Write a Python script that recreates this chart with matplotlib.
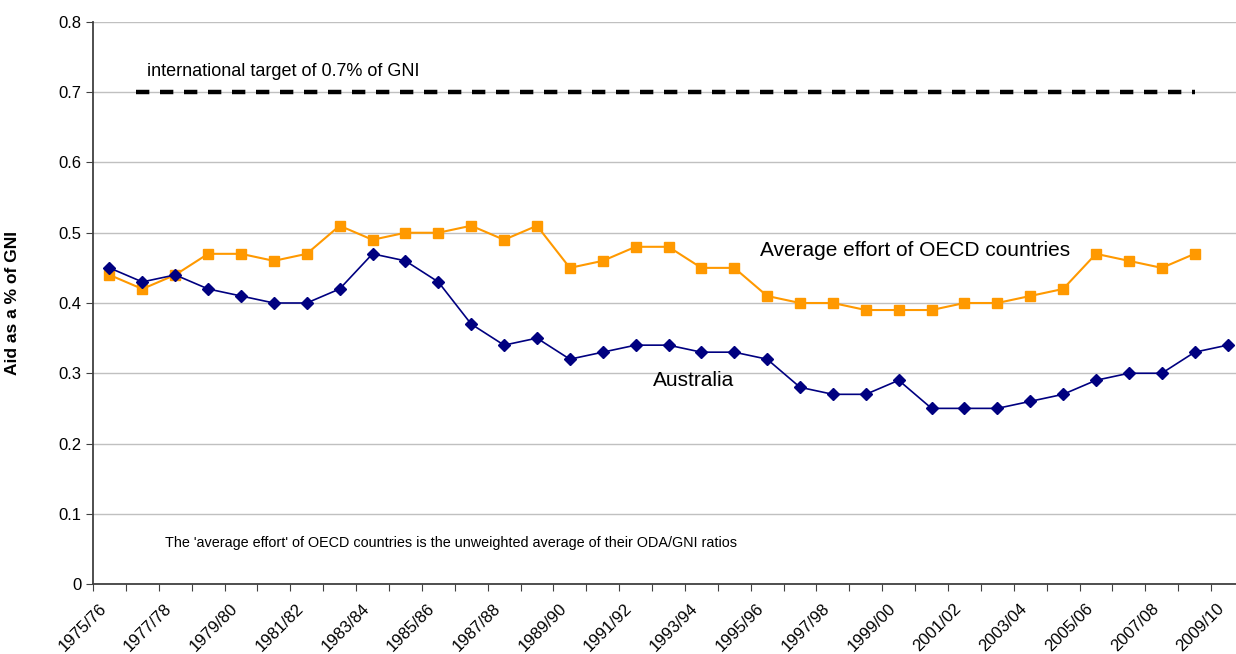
import matplotlib
matplotlib.use("Agg")
import matplotlib.pyplot as plt
import matplotlib.transforms as mtransforms
import numpy as np

plt.rcParams['font.family'] = ['Liberation Sans', 'DejaVu Sans']

years = [f"{y}/{str(y + 1)[-2:]}" for y in range(1975, 2010)]
australia = [0.45, 0.43, 0.44, 0.42, 0.41, 0.40, 0.40, 0.42, 0.47, 0.46,
             0.43, 0.37, 0.34, 0.35, 0.32, 0.33, 0.34, 0.34, 0.33, 0.33,
             0.32, 0.28, 0.27, 0.27, 0.29, 0.25, 0.25, 0.25, 0.26, 0.27,
             0.29, 0.30, 0.30, 0.33, 0.34]
oecd = [0.44, 0.42, 0.44, 0.47, 0.47, 0.46, 0.47, 0.51, 0.49, 0.50,
        0.50, 0.51, 0.49, 0.51, 0.45, 0.46, 0.48, 0.48, 0.45, 0.45,
        0.41, 0.40, 0.40, 0.39, 0.39, 0.39, 0.40, 0.40, 0.41, 0.42,
        0.47, 0.46, 0.45, 0.47, np.nan]
target = 0.7
target_span = [0.8, 33.0]

fig = plt.figure(figsize=(12.36, 6.54), dpi=100)
ax = fig.add_axes([93 / 1236, 1 - 584 / 654, (1244 - 93) / 1236, (584 - 22) / 654])

x = np.arange(len(years))
ax.plot(target_span, [target, target], color='black', lw=3.2, ls=(0, (3.0, 2.4)), zorder=3)
ax.plot(x, oecd, color='#FF9900', lw=1.5, marker='s', ms=7.5, zorder=4)
ax.plot(x, australia, color='#000080', lw=1.2, marker='D', ms=6, zorder=5)

ax.set_xlim(-0.5, len(years) - 0.5)
ax.set_ylim(0, 0.8)
ax.set_yticks(np.arange(0, 0.81, 0.1))
ax.set_yticklabels(['0'] + [f"{v:.1f}" for v in np.arange(0.1, 0.81, 0.1)], fontsize=12)
ax.yaxis.grid(True, color='#c0c0c0', lw=1)
ax.set_axisbelow(True)

ax.set_xticks(np.arange(-0.5, len(years), 1), minor=False)
ax.set_xticklabels([])
ax.set_xticks(x[::2], minor=True)
ax.set_xticklabels(years[::2], minor=True, rotation=45, ha='right', rotation_mode='anchor', fontsize=12)
ax.tick_params(axis='x', which='minor', length=0, pad=4)
ax.tick_params(axis='x', which='major', length=5, color='#404040', direction='out')
ax.tick_params(axis='y', length=5, color='#404040', direction='out')
offset = mtransforms.ScaledTranslation(-0.11, -0.11, fig.dpi_scale_trans)
for lbl in ax.get_xticklabels(minor=True):
    lbl.set_transform(lbl.get_transform() + offset)

for s in ['top', 'right']:
    ax.spines[s].set_visible(False)
for s in ['left', 'bottom']:
    ax.spines[s].set_color('#404040')
    ax.spines[s].set_linewidth(1.3)

ax.set_ylabel('Aid as a % of GNI', fontsize=12.5, fontweight='bold')
ax.yaxis.set_label_coords(-(93 - 20) / (1244 - 93), 0.5)

ax.text(1.14, 0.729, 'international target of 0.7% of GNI', fontsize=13, va='center', ha='left')
ax.text(19.77, 0.4754, 'Average effort of OECD countries', fontsize=15, va='center', ha='left')
ax.text(16.52, 0.289, 'Australia', fontsize=15, va='center', ha='left')
ax.text(1.69, 0.0584, "The 'average effort' of OECD countries is the unweighted average of their ODA/GNI ratios",
        fontsize=10.4, va='center', ha='left')

fig.savefig('out.png', dpi=100)
